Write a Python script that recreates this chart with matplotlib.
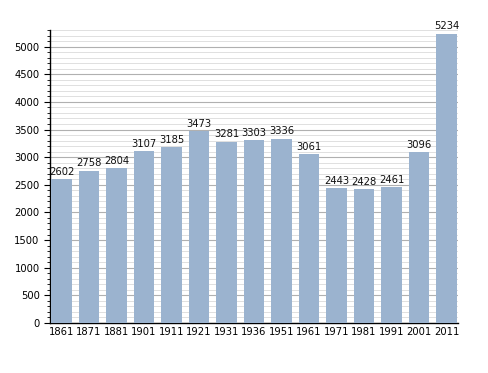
import matplotlib
matplotlib.use("Agg")
import matplotlib.pyplot as plt
from matplotlib.ticker import MultipleLocator

years = ["1861", "1871", "1881", "1901", "1911", "1921", "1931", "1936",
         "1951", "1961", "1971", "1981", "1991", "2001", "2011"]
population = [2602, 2758, 2804, 3107, 3185, 3473, 3281, 3303,
              3336, 3061, 2443, 2428, 2461, 3096, 5234]

fig = plt.figure(figsize=(4.88, 3.73), dpi=100)
ax = fig.add_axes([50/488, 50/373, 408/488, 293/373])

x = list(range(len(years)))
ax.bar(x, population, width=0.76, color="#9bb3cf", zorder=3)
for xi, v in zip(x, population):
    ax.text(xi, v + 40, str(v), ha="center", va="bottom", fontsize=7.2,
            color="#111111", zorder=4)

ax.set_xlim(-0.42, len(years) - 0.58)
ax.set_ylim(0, 5300)
ax.set_xticks(x)
ax.set_xticklabels(years, fontsize=7.2)
ax.yaxis.set_major_locator(MultipleLocator(500))
ax.yaxis.set_minor_locator(MultipleLocator(100))
ax.tick_params(axis="y", labelsize=7.2, length=4, width=0.8, direction="out")
ax.tick_params(axis="y", which="minor", length=2, width=0.6)
ax.tick_params(axis="x", length=0, pad=3)
ax.grid(axis="y", which="major", color="#b0b0b0", linewidth=0.8, zorder=0)
ax.grid(axis="y", which="minor", color="#e0e0e0", linewidth=0.7, zorder=0)
for s in ["top", "right"]:
    ax.spines[s].set_visible(False)
ax.spines["left"].set_linewidth(1.0)
ax.spines["bottom"].set_linewidth(1.0)

fig.savefig("out.png", dpi=100)
